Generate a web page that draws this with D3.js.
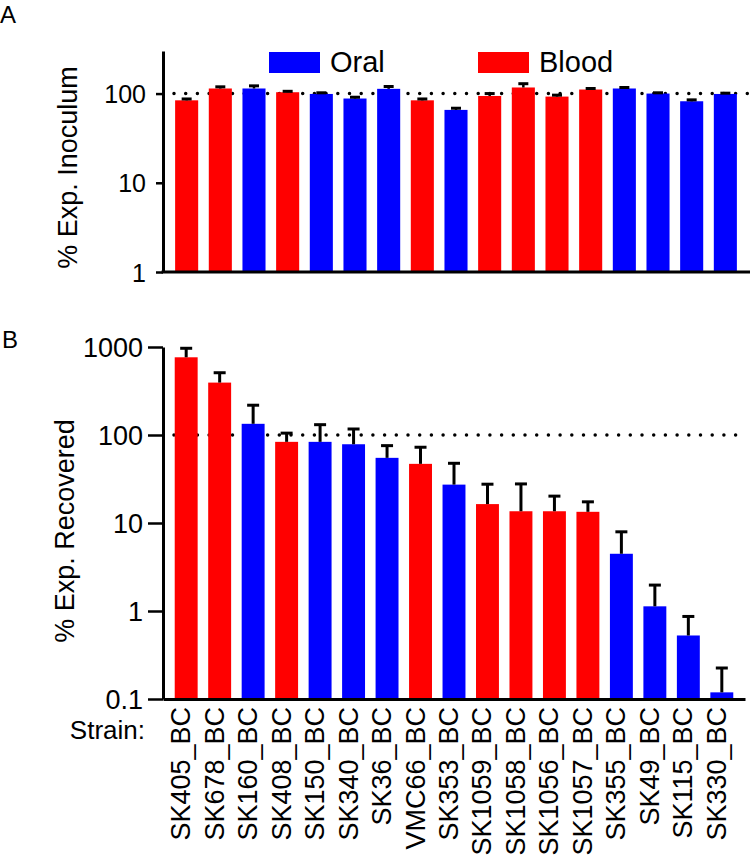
<!DOCTYPE html>
<html>
<head>
<meta charset="utf-8">
<script src="https://cdn.jsdelivr.net/npm/d3@7"></script>
<style>
  html, body { margin: 0; padding: 0; background: #fff; }
  svg { display: block; }
  text { font-family: "Liberation Sans", Arial, Helvetica, sans-serif; fill: #000; }
</style>
</head>
<body>
<svg id="chart" width="750" height="861"></svg>
<script>
// ---------------- data ----------------
const strains = ["SK405_BC","SK678_BC","SK160_BC","SK408_BC","SK150_BC","SK340_BC","SK36_BC","VMC66_BC","SK353_BC","SK1059_BC","SK1058_BC","SK1056_BC","SK1057_BC","SK355_BC","SK49_BC","SK115_BC","SK330_BC"];
const source = ["Blood","Blood","Oral","Blood","Oral","Oral","Oral","Blood","Oral","Blood","Blood","Blood","Blood","Oral","Oral","Oral","Oral"];
const inoculum = [84, 114, 114, 103.5, 99, 88, 113, 84, 65.6, 94, 117, 92.5, 111, 114, 100, 82, 99];
const inoculumErr = [3, 5, 8, 2.5, 3, 3, 7, 3, 2.9, 6, 12, 3.5, 3, 3, 2, 3, 2];
const recovered = [764, 394, 134, 83.6, 83.6, 78.5, 55, 47, 27.3, 16.4, 13.6, 13.6, 13.4, 4.47, 1.13, 0.527, 0.119];
const recoveredErr = [203, 116, 84, 21.4, 47.4, 38.5, 20.7, 25.6, 20.4, 11.2, 14.2, 6.6, 4, 3.47, 0.84, 0.34, 0.106];
const ticksA = [1, 10, 100];
const ticksB = [0.1, 1, 10, 100, 1000];
const legendItems = ["Oral", "Blood"];
const refLine = 100;

const color = d3.scaleOrdinal().domain(["Oral","Blood"]).range(["#0000ff","#ff0000"]);
const fmt = d3.format("~g");

const svg = d3.select("#chart");

// ---------------- Panel A ----------------
const xA = d3.scaleBand().domain(strains).range([163, 749]).paddingInner(0.315).paddingOuter(0.36);
const yA = d3.scaleLog().domain([1, 300]).range([272, 51]);

const gA = svg.append("g");
gA.append("line")
  .attr("x1", 174).attr("x2", 749)
  .attr("y1", yA(refLine)).attr("y2", yA(refLine))
  .attr("stroke", "#000").attr("stroke-width", 3.5)
  .attr("stroke-linecap", "round").attr("stroke-dasharray", "0,11.7");

gA.selectAll("rect.bar").data(strains).join("rect")
  .attr("class", "bar")
  .attr("x", d => xA(d))
  .attr("y", (d, i) => yA(inoculum[i]))
  .attr("width", xA.bandwidth())
  .attr("height", (d, i) => yA(1) - yA(inoculum[i]))
  .attr("fill", (d, i) => color(source[i]));

const ebA = gA.selectAll("g.eb").data(strains).join("g").attr("class", "eb");
ebA.append("line")
  .attr("x1", d => xA(d) + xA.bandwidth() / 2).attr("x2", d => xA(d) + xA.bandwidth() / 2)
  .attr("y1", (d, i) => yA(inoculum[i])).attr("y2", (d, i) => yA(inoculum[i] + inoculumErr[i]))
  .attr("stroke", "#000").attr("stroke-width", 2.5);
ebA.append("line")
  .attr("x1", d => xA(d) + xA.bandwidth() / 2 - 5).attr("x2", d => xA(d) + xA.bandwidth() / 2 + 5)
  .attr("y1", (d, i) => yA(inoculum[i] + inoculumErr[i])).attr("y2", (d, i) => yA(inoculum[i] + inoculumErr[i]))
  .attr("stroke", "#000").attr("stroke-width", 3);

const axA = gA.append("g").attr("transform", "translate(163,0)")
  .call(d3.axisLeft(yA).tickValues(ticksA).tickFormat(fmt).tickSize(7).tickSizeOuter(0).tickPadding(10));
axA.select(".domain").attr("stroke-width", 3);
axA.selectAll(".tick line").attr("stroke-width", 2.5);
axA.selectAll(".tick text").style("font-size", "25px").attr("dy", "0.36em");

gA.append("line").attr("x1", 161.5).attr("x2", 750).attr("y1", yA(1)).attr("y2", yA(1))
  .attr("stroke", "#000").attr("stroke-width", 3);

gA.append("text").attr("transform", `translate(77,${(yA(1) + yA(300)) / 2 + 6}) rotate(-90)`)
  .attr("text-anchor", "middle").style("font-size", "27px").text("% Exp. Inoculum");

gA.append("text").attr("x", 0).attr("y", 23).style("font-size", "24px").text("A");

const legX = [269, 478];
legendItems.forEach((k, i) => {
  gA.append("rect").attr("x", legX[i]).attr("y", 52).attr("width", 51).attr("height", 21).attr("fill", color(k));
  gA.append("text").attr("x", legX[i] + 61).attr("y", 72).style("font-size", "29px").text(k);
});

// ---------------- Panel B ----------------
const xB = d3.scaleBand().domain(strains).range([163, 745]).paddingInner(0.315).paddingOuter(0.35);
const yB = d3.scaleLog().domain([0.1, 1000]).range([699, 347]);

const gB = svg.append("g");
gB.append("line")
  .attr("x1", 174).attr("x2", 745)
  .attr("y1", yB(refLine)).attr("y2", yB(refLine))
  .attr("stroke", "#000").attr("stroke-width", 3.5)
  .attr("stroke-linecap", "round").attr("stroke-dasharray", "0,11.7");

gB.selectAll("rect.bar").data(strains).join("rect")
  .attr("class", "bar")
  .attr("x", d => xB(d))
  .attr("y", (d, i) => yB(recovered[i]))
  .attr("width", xB.bandwidth())
  .attr("height", (d, i) => yB(0.1) - yB(recovered[i]))
  .attr("fill", (d, i) => color(source[i]));

const ebB = gB.selectAll("g.eb").data(strains).join("g").attr("class", "eb");
ebB.append("line")
  .attr("x1", d => xB(d) + xB.bandwidth() / 2).attr("x2", d => xB(d) + xB.bandwidth() / 2)
  .attr("y1", (d, i) => yB(recovered[i])).attr("y2", (d, i) => yB(recovered[i] + recoveredErr[i]))
  .attr("stroke", "#000").attr("stroke-width", 3);
ebB.append("line")
  .attr("x1", d => xB(d) + xB.bandwidth() / 2 - 6).attr("x2", d => xB(d) + xB.bandwidth() / 2 + 6)
  .attr("y1", (d, i) => yB(recovered[i] + recoveredErr[i])).attr("y2", (d, i) => yB(recovered[i] + recoveredErr[i]))
  .attr("stroke", "#000").attr("stroke-width", 3);

const axB = gB.append("g").attr("transform", "translate(163,0)")
  .call(d3.axisLeft(yB).tickValues(ticksB).tickFormat(fmt).tickSize(15).tickSizeOuter(0).tickPadding(5));
axB.select(".domain").attr("stroke-width", 3);
axB.selectAll(".tick line").attr("stroke-width", 2.5);
axB.selectAll(".tick text").style("font-size", "27px").attr("dy", "0.36em");

const xAxB = gB.append("g").attr("transform", `translate(0,${yB(0.1)})`)
  .call(d3.axisBottom(xB).tickSize(0).tickSizeOuter(0));
xAxB.select(".domain").attr("stroke-width", 3);
xAxB.selectAll(".tick text")
  .style("font-size", "27px")
  .attr("text-anchor", "end")
  .attr("transform", "translate(4,8) rotate(-90)")
  .attr("x", 0).attr("y", 0).attr("dy", 0);

gB.append("text").attr("x", 145).attr("y", 739).attr("text-anchor", "end").style("font-size", "26px").text("Strain:");

gB.append("text").attr("transform", `translate(74,${(yB(0.1) + yB(1000)) / 2 + 8}) rotate(-90)`)
  .attr("text-anchor", "middle").style("font-size", "27px").text("% Exp. Recovered");

gB.append("text").attr("x", 2).attr("y", 348).style("font-size", "24px").text("B");
</script>
</body>
</html>
